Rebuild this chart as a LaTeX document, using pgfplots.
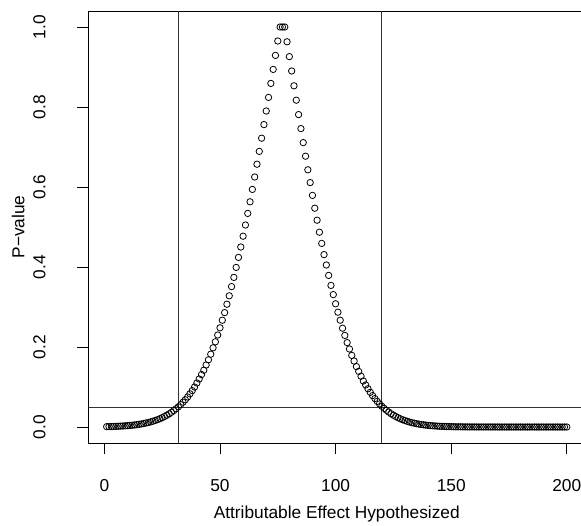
\documentclass[border=0pt]{standalone}
\usepackage{pgfplots}
\pgfplotsset{compat=1.18}
\usepackage{fontspec}
\setmainfont{Liberation Sans}
\newcommand{\rfont}{\fontsize{17.3pt}{20pt}\selectfont}
\begin{document}
\begin{tikzpicture}
\useasboundingbox (-88.3pt,-82pt) rectangle (492.7pt,443pt);
\clip (-88.3pt,-82pt) rectangle (492.7pt,443pt);
\begin{axis}[
  scale only axis, width=496.9pt, height=432pt,
  xmin=-6.96, xmax=207.96, ymin=-0.04, ymax=1.04,
  axis line style={black, line width=0.9pt},
  xtick={0,50,100,150,200}, ytick={0,0.2,0.4,0.6,0.8,1.0},
  tick align=outside, major tick length=11pt,
  tick style={black, line width=0.9pt},
  tick pos=left,
  /pgf/number format/assume math mode=true,
  xticklabel style={font=\rfont, anchor=center},
  yticklabel style={font=\rfont, anchor=center, rotate=90, /pgf/number format/.cd, fixed, fixed zerofill, precision=1},
  xticklabel shift=32pt,
  yticklabel shift=38pt,
  xlabel={Attributable Effect Hypothesized},
  ylabel={P−value},
  xlabel style={font=\rfont, at={([yshift=-71pt]axis description cs:0.5,0)}, anchor=center},
  ylabel style={font=\rfont, at={([xshift=-70pt]axis description cs:0,0.5)}, anchor=center},
]
\addplot[only marks, mark=o, mark size=3.2pt, mark options={line width=0.8pt, draw=black}] coordinates {
(1,0.0009)(2,0.0010)(3,0.0012)(4,0.0014)(5,0.0016)(6,0.0019)(7,0.0022)(8,0.0025)(9,0.0029)(10,0.0034)
(11,0.0039)(12,0.0044)(13,0.0051)(14,0.0059)(15,0.0067)(16,0.0077)(17,0.0087)(18,0.0099)(19,0.0113)(20,0.0128)
(21,0.0145)(22,0.0164)(23,0.0185)(24,0.0208)(25,0.0234)(26,0.0263)(27,0.0294)(28,0.0329)(29,0.0367)(30,0.0410)
(31,0.0455)(32,0.0505)(33,0.056)(34,0.062)(35,0.068)(36,0.075)(37,0.083)(38,0.091)(39,0.100)(40,0.110)
(41,0.120)(42,0.131)(43,0.142)(44,0.155)(45,0.168)(46,0.182)(47,0.198)(48,0.213)(49,0.230)(50,0.248)
(51,0.267)(52,0.286)(53,0.307)(54,0.328)(55,0.351)(56,0.374)(57,0.399)(58,0.424)(59,0.450)(60,0.477)
(61,0.505)(62,0.534)(63,0.563)(64,0.594)(65,0.625)(66,0.657)(67,0.689)(68,0.722)(69,0.756)(70,0.790)
(71,0.824)(72,0.859)(73,0.894)(74,0.929)(75,0.965)(76,1)(77,1)(78,1)(79,0.963)(80,0.926)
(81,0.890)(82,0.853)(83,0.817)(84,0.781)(85,0.746)(86,0.711)(87,0.677)(88,0.643)(89,0.611)(90,0.579)
(91,0.547)(92,0.517)(93,0.487)(94,0.459)(95,0.431)(96,0.405)(97,0.379)(98,0.354)(99,0.331)(100,0.308)
(101,0.287)(102,0.267)(103,0.247)(104,0.229)(105,0.211)(106,0.195)(107,0.179)(108,0.165)(109,0.151)(110,0.139)
(111,0.127)(112,0.115)(113,0.105)(114,0.0956)(115,0.0867)(116,0.0785)(117,0.0710)(118,0.0640)(119,0.0577)(120,0.0518)
(121,0.0465)(122,0.0417)(123,0.0372)(124,0.0332)(125,0.0296)(126,0.0263)(127,0.0233)(128,0.0206)(129,0.0182)(130,0.0161)
(131,0.0141)(132,0.0124)(133,0.0109)(134,0.0095)(135,0.0083)(136,0.0072)(137,0.0063)(138,0.0055)(139,0.0047)(140,0.0041)
(141,0.0035)(142,0.0030)(143,0.0026)(144,0.0022)(145,0.0019)(146,0.0016)(147,0.0014)(148,0.0012)(149,0.0010)(150,0.0009)
(151,0.0007)(152,0.0006)(153,0.0005)(154,0.0004)(155,0.0004)(156,0.0003)(157,0.0003)(158,0.0002)(159,0.0002)(160,0.0002)
(161,0.0001)(162,0.0001)(163,0.0001)(164,0.0001)(165,0.0001)(166,0.0001)(167,0.0001)(168,0.0001)(169,0.0001)(170,0.0001)
(171,0)(172,0)(173,0)(174,0)(175,0)(176,0)(177,0)(178,0)(179,0)(180,0)
(181,0)(182,0)(183,0)(184,0)(185,0)(186,0)(187,0)(188,0)(189,0)(190,0)
(191,0)(192,0)(193,0)(194,0)(195,0)(196,0)(197,0)(198,0)(199,0)(200,0)
};
\addplot[black!80, line width=0.9pt] coordinates {(32,-0.04) (32,1.04)};
\addplot[black!80, line width=0.9pt] coordinates {(120,-0.04) (120,1.04)};
\addplot[black!80, line width=0.9pt] coordinates {(-6.96,0.05) (207.96,0.05)};
\end{axis}
\end{tikzpicture}
\end{document}
